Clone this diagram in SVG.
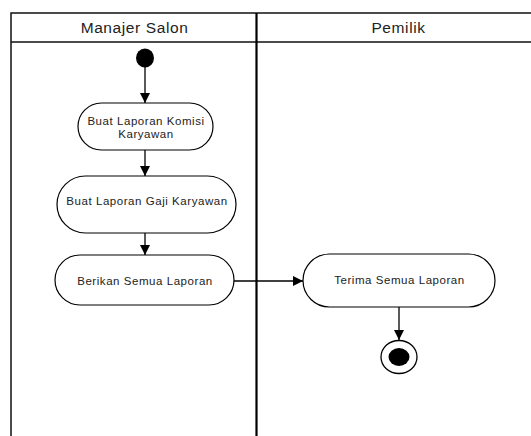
<svg xmlns="http://www.w3.org/2000/svg" width="531" height="436" viewBox="0 0 531 436">
  <defs>
    <marker id="arrow" viewBox="0 0 10 10" refX="10" refY="5" markerWidth="10" markerHeight="10" markerUnits="userSpaceOnUse" orient="auto">
      <path d="M0,0 L10,5 L0,10 Z" fill="#000"/>
    </marker>
  </defs>
  <style>
    .lane { fill: none; stroke: #111; stroke-width: 1.5; }
    .divider { stroke: #000; stroke-width: 2.2; }
    .head { font-family: "Liberation Sans", Arial, sans-serif; font-size: 15.5px; letter-spacing: 0.6px; fill: #222; text-anchor: middle; }
    .act { fill: #fff; stroke: #000; stroke-width: 1.2; }
    .label { font-family: "Liberation Sans", Arial, sans-serif; font-size: 11.5px; letter-spacing: 0.55px; fill: #222; text-anchor: middle; }
    .flow { fill: none; stroke: #000; stroke-width: 1.3; marker-end: url(#arrow); }
  </style>
  <rect width="531" height="436" fill="#fff"/>

  <!-- swimlane frame -->
  <g id="lanes">
    <path class="lane" d="M11,436 V13 H531 M11,42 H531"/>
    <line class="divider" x1="256.5" y1="13" x2="256.5" y2="436"/>
    <text class="head" x="134.5" y="33">Manajer Salon</text>
    <text class="head" x="398.5" y="33">Pemilik</text>
  </g>

  <!-- connectors -->
  <g id="connectors">
    <line class="flow" x1="145" y1="67" x2="145" y2="103"/>
    <line class="flow" x1="145" y1="150" x2="145" y2="176"/>
    <line class="flow" x1="145" y1="233" x2="145" y2="255"/>
    <line class="flow" x1="234" y1="281" x2="303" y2="281"/>
    <line class="flow" x1="399" y1="307" x2="399" y2="340"/>
  </g>

  <g id="start">
    <ellipse cx="145" cy="58" rx="9" ry="9.5" fill="#000"/>
  </g>

  <g id="buat-komisi">
    <rect class="act" x="78" y="103" width="135" height="47" rx="23.5"/>
    <text class="label" x="146" y="125">Buat Laporan Komisi</text>
    <text class="label" x="146" y="138">Karyawan</text>
  </g>

  <g id="buat-gaji">
    <rect class="act" x="57" y="176" width="179" height="57" rx="28.5"/>
    <text class="label" x="147" y="205">Buat Laporan Gaji Karyawan</text>
  </g>

  <g id="berikan">
    <rect class="act" x="55" y="255" width="179" height="50" rx="25"/>
    <text class="label" x="145" y="285">Berikan Semua Laporan</text>
  </g>

  <g id="terima">
    <rect class="act" x="303" y="254" width="192" height="53" rx="26.5"/>
    <text class="label" x="399.5" y="284">Terima Semua Laporan</text>
  </g>

  <g id="end">
    <ellipse cx="399" cy="357" rx="18" ry="16.5" fill="#fff" stroke="#000" stroke-width="1.3"/>
    <ellipse cx="399" cy="357" rx="10.5" ry="9" fill="#000"/>
  </g>
</svg>
